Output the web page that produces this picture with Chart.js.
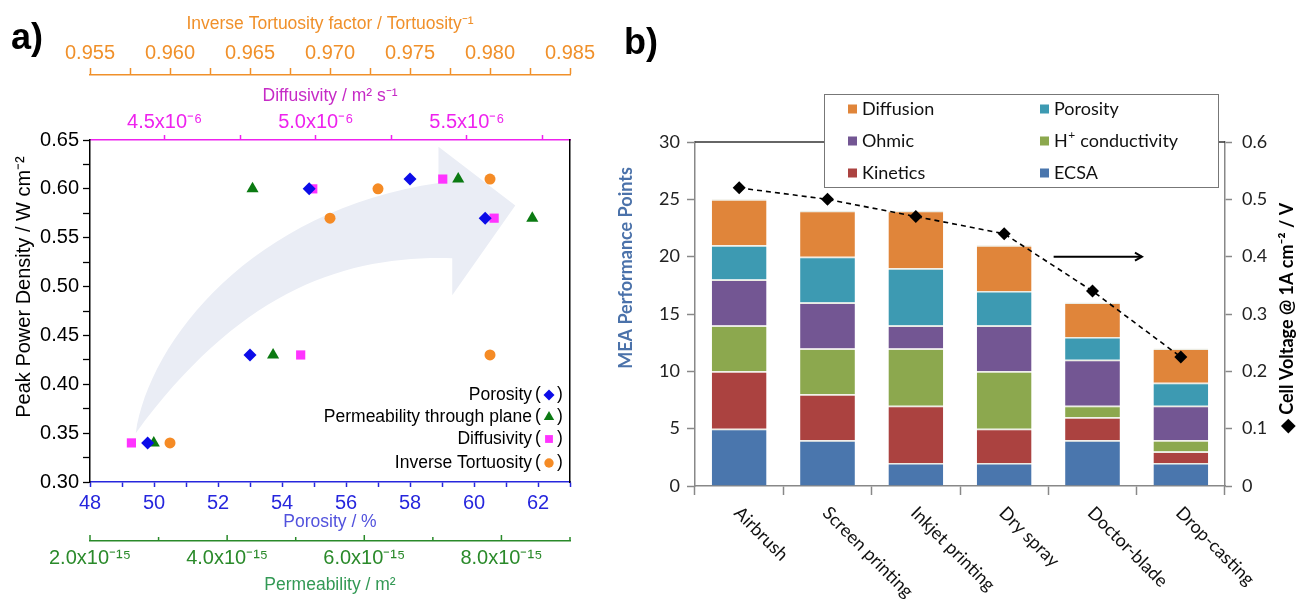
<!DOCTYPE html>
<html><head><meta charset="utf-8">
<script src="https://cdn.jsdelivr.net/npm/chart.js@4/dist/chart.umd.min.js"></script>
<style>
html,body{margin:0;padding:0;background:#fff;width:1308px;height:603px;overflow:hidden}
#wrapA{position:absolute;left:0;top:0;width:600px;height:603px}
#wrapB{position:absolute;left:600px;top:0;width:708px;height:603px}
.plabel{position:absolute;font:bold 36px "Liberation Sans",Arial,sans-serif;color:#000;line-height:1}
</style></head><body>
<div id="wrapA"><canvas id="cA" width="600" height="603"></canvas></div>
<div id="wrapB"><canvas id="cB" width="708" height="603"></canvas></div>
<div class="plabel" style="left:11px;top:19px">a)</div>
<div class="plabel" style="left:624px;top:24px">b)</div>
<script>
// ===== Panel a data =====
const peakPower       = [0.34, 0.43, 0.60, 0.61, 0.57];        // W cm^-2
const porosity        = [49.8, 53.0, 54.85, 58.0, 60.35];      // %
const permeabilityE15 = [2.93, 4.67, 4.37, 7.37, 8.45];        // x10^-15 m^2
const diffusivityE6   = [4.39, 4.95, 4.99, 5.42, 5.59];        // x10^-6 m^2 s^-1
const invTortuosity   = [0.960, 0.980, 0.973, 0.980, 0.970];
const ppdTicks        = [0.30, 0.35, 0.40, 0.45, 0.50, 0.55, 0.60, 0.65];
const porosityTicks   = [48, 50, 52, 54, 56, 58, 60, 62];
const permTicks       = [2, 4, 6, 8];
const diffTicks       = [4.5, 5.0, 5.5];
const tortTicks       = [0.955, 0.960, 0.965, 0.970, 0.975, 0.980, 0.985];
const seriesNames     = ['Porosity', 'Permeability through plane', 'Diffusivity', 'Inverse Tortuosity'];

// ===== Panel b data =====
const methods       = ['Airbrush', 'Screen printing', 'Inkjet printing', 'Dry spray', 'Doctor-blade', 'Drop-casting'];
const ecsa          = [5, 4, 2, 2, 4, 2];
const kinetics      = [5, 4, 5, 3, 2, 1];
const hConductivity = [4, 4, 5, 5, 1, 1];
const ohmic         = [4, 4, 2, 4, 4, 3];
const porosityPts   = [3, 4, 5, 3, 2, 2];
const diffusion     = [4, 4, 5, 4, 3, 3];
const cellVoltage   = [0.52, 0.50, 0.47, 0.44, 0.34, 0.225];
const pointsTicks   = [0, 5, 10, 15, 20, 25, 30];
const voltTicks     = [0, 0.1, 0.2, 0.3, 0.4, 0.5, 0.6];

// ===== helpers =====
const LF = '"Liberation Sans", Arial, sans-serif';
const RF = 'Lato, "Open Sans", sans-serif';
function ticksFor(min, max, step) {
  const out = []; const k0 = Math.ceil(min / step - 1e-6);
  for (let k = k0; k * step <= max + 1e-9; k++) out.push(Math.round(k * step * 1e6) / 1e6);
  return out;
}
const isMajor = (v, arr) => arr.some(m => Math.abs(m - v) < 1e-6);
const fixedTicks = vals => scale => { scale.ticks = vals.map(v => ({value: v})); };
const fixH = h => s => { s.height = h; };
const fixW = w => s => { s.width = w; };

const C_OR = '#f0902a', C_MG = '#ee22ee', C_MGT = '#c62ac6', C_BL = '#2626dd', C_BLT = '#5252dd', C_GR = '#2a8a2a', C_GRT = '#339955';
const ptColors = ['#0c0ce8', '#0b7a12', '#ff33ff', '#f58b25'];
const ptStyles = ['rectRot', 'triangle', 'rect', 'circle'];
const ptRadius = [6.5, 7, 6.5, 5.5];

function drawMarker(ctx, style, x, y, r, color) {
  ctx.fillStyle = color; ctx.beginPath();
  if (style === 'rectRot') { ctx.moveTo(x, y - r); ctx.lineTo(x + r, y); ctx.lineTo(x, y + r); ctx.lineTo(x - r, y); }
  else if (style === 'triangle') { ctx.moveTo(x, y - r); ctx.lineTo(x + r * 0.87, y + r * 0.5); ctx.lineTo(x - r * 0.87, y + r * 0.5); }
  else if (style === 'rect') { const s = r * 0.707; ctx.rect(x - s, y - s, 2 * s, 2 * s); }
  else { ctx.arc(x, y, r, 0, Math.PI * 2); }
  ctx.closePath(); ctx.fill();
}

// decorative curved arrow, in (porosity %, W cm^-2) units
const arrowShape = {tail:[49.43,0.350], u1:[49.86,0.445], u2:[53.07,0.578], uEnd:[58.89,0.606],
  headTop:[58.89,0.643], tip:[61.29,0.583], headBottom:[59.32,0.491], lEnd:[59.32,0.529],
  l1:[55.93,0.532], l2:[52.71,0.496]};

const leftDeco = {
  id: 'leftDeco',
  beforeDatasetsDraw(chart) {
    const {ctx} = chart; const xs = chart.scales.xPor, ys = chart.scales.y;
    const P = a => [xs.getPixelForValue(a[0]), ys.getPixelForValue(a[1])];
    const A = arrowShape;
    ctx.save(); ctx.beginPath();
    ctx.moveTo(...P(A.tail));
    ctx.bezierCurveTo(...P(A.u1), ...P(A.u2), ...P(A.uEnd));
    ctx.lineTo(...P(A.headTop)); ctx.lineTo(...P(A.tip)); ctx.lineTo(...P(A.headBottom)); ctx.lineTo(...P(A.lEnd));
    ctx.bezierCurveTo(...P(A.l1), ...P(A.l2), ...P(A.tail));
    ctx.closePath(); ctx.fillStyle = '#eaedf5'; ctx.fill(); ctx.restore();
  },
  afterDraw(chart) {
    const {ctx, chartArea: ca} = chart;
    ctx.save();
    // y title
    ctx.translate(24, (ca.top + ca.bottom) / 2 - 24); ctx.rotate(-Math.PI / 2);
    ctx.fillStyle = '#000'; ctx.font = '20px ' + LF; ctx.textAlign = 'center'; ctx.textBaseline = 'middle';
    ctx.fillText('Peak Power Density / W cm⁻²', 0, 0);
    ctx.restore();
    // legend
    const rows = [87, 65, 43, 19];
    ctx.save(); ctx.font = '17.5px ' + LF; ctx.textBaseline = 'middle'; ctx.fillStyle = '#000';
    seriesNames.forEach((n, i) => {
      const y = ca.bottom - rows[i];
      ctx.fillStyle = '#000'; ctx.textAlign = 'right'; ctx.fillText(n, ca.right - 38, y);
      ctx.textAlign = 'left'; ctx.fillText('(', ca.right - 35, y - 1); ctx.fillText(')', ca.right - 13, y - 1);
      drawMarker(ctx, ptStyles[i], ca.right - 21, y, ptRadius[i] * 0.85, ptColors[i]);
    });
    ctx.restore();
    // inward ticks on permeability axis
    const s = chart.scales.xPerm;
    ctx.save(); ctx.strokeStyle = C_GR; ctx.lineWidth = 1.5;
    s.ticks.forEach(t => {
      const x = s.getPixelForValue(t.value); const L = isMajor(t.value, permTicks) ? 6 : 4;
      ctx.beginPath(); ctx.moveTo(x, s.top); ctx.lineTo(x, s.top - L); ctx.stroke();
    });
    ctx.restore();
  }
};

function topBottomAxis(o) {
  return {
    type: 'linear', axis: 'x', position: o.pos, weight: o.weight, min: o.min, max: o.max, bounds: 'data',
    afterBuildTicks: fixedTicks(ticksFor(o.min, o.max, o.minor)),
    afterFit: fixH(o.h),
    ticks: {autoSkip: false, maxRotation: 0, minRotation: 0, color: o.color, font: {family: LF, size: 20}, padding: o.pad,
      callback: v => isMajor(v, o.majors) ? o.fmt(v) : ''},
    grid: {display: true, drawOnChartArea: false, drawTicks: o.drawTicks !== false, tickLength: o.tl || 6, tickColor: o.color, tickWidth: 1.5},
    border: {display: true, color: o.color, width: 1.5},
    title: {display: true, text: o.title, color: o.titleColor, font: {family: LF, size: 17.5}, padding: o.tpad}
  };
}

const scatterSets = [
  {label: seriesNames[0], xAxisID: 'xPor',  data: porosity.map((v, i) => ({x: v, y: peakPower[i]}))},
  {label: seriesNames[1], xAxisID: 'xPerm', data: permeabilityE15.map((v, i) => ({x: v, y: peakPower[i]}))},
  {label: seriesNames[2], xAxisID: 'xDiff', data: diffusivityE6.map((v, i) => ({x: v, y: peakPower[i]}))},
  {label: seriesNames[3], xAxisID: 'xTort', data: invTortuosity.map((v, i) => ({x: v, y: peakPower[i]}))}
].map((d, i) => Object.assign(d, {yAxisID: 'y', pointStyle: ptStyles[i], pointRadius: ptRadius[i],
  backgroundColor: ptColors[i], borderColor: ptColors[i], borderWidth: 0, showLine: false}));

new Chart(document.getElementById('cA'), {
  type: 'scatter',
  data: {datasets: scatterSets},
  options: {
    responsive: false, animation: false, events: [],
    layout: {padding: {left: 0, right: 30, top: 0, bottom: 0}},
    plugins: {legend: {display: false}, tooltip: {enabled: false}},
    scales: {
      xTort: topBottomAxis({pos: 'top', weight: 1, min: 0.955, max: 0.985, minor: 0.0025, majors: tortTicks, fmt: v => v.toFixed(3),
        h: 75, pad: 3, tl: 7, color: C_OR, titleColor: C_OR, title: 'Inverse Tortuosity factor / Tortuosity⁻¹', tpad: {top: 14, bottom: 0}}),
      xDiff: topBottomAxis({pos: 'top', weight: 0, min: 4.253, max: 5.841, minor: 0.25, majors: diffTicks, fmt: v => v.toFixed(1) + 'x10⁻⁶',
        h: 65, pad: 1, tl: 5, color: C_MG, titleColor: C_MGT, title: 'Diffusivity / m² s⁻¹', tpad: {top: 11, bottom: 0}}),
      xPor: topBottomAxis({pos: 'bottom', weight: 0, min: 48, max: 63, minor: 1, majors: porosityTicks, fmt: v => String(v),
        h: 59, pad: 4, tl: 5, color: C_BL, titleColor: C_BLT, title: 'Porosity / %', tpad: {top: 0, bottom: 8}}),
      xPerm: topBottomAxis({pos: 'bottom', weight: 1, min: 2, max: 9, minor: 1, majors: permTicks, fmt: v => v.toFixed(1) + 'x10⁻¹⁵',
        h: 62, pad: 5, drawTicks: false, color: C_GR, titleColor: C_GRT, title: 'Permeability / m²', tpad: {top: 0, bottom: 7}}),
      y: {type: 'linear', position: 'left', min: 0.30, max: 0.65, bounds: 'data',
        afterBuildTicks: fixedTicks(ticksFor(0.30, 0.65, 0.025)), afterFit: fixW(90),
        ticks: {autoSkip: false, color: '#000', font: {family: LF, size: 20}, padding: 4,
          callback: v => isMajor(v, ppdTicks) ? v.toFixed(2) : ''},
        grid: {drawOnChartArea: false, tickLength: 7, tickColor: '#000', tickWidth: 1.3},
        border: {display: true, color: '#000', width: 1.5}},
      yR: {type: 'linear', axis: 'y', position: 'right', min: 0.30, max: 0.65, afterFit: fixW(0),
        ticks: {display: false}, grid: {display: false, drawTicks: false}, border: {display: true, color: '#000', width: 1.5}}
    }
  },
  plugins: [leftDeco]
});

// ===== Panel b =====
const segNames  = ['ECSA', 'Kinetics', 'H+ conductivity', 'Ohmic', 'Porosity', 'Diffusion'];
const segValues = [ecsa, kinetics, hConductivity, ohmic, porosityPts, diffusion];
const segColors = ['#4a76ad', '#ab4240', '#8ca84e', '#735693', '#3d9ab2', '#e0853a'];

function drawLabelWithSup(ctx, label, x, y) {
  if (label.startsWith('H+')) {
    ctx.fillText('H', x, y); const w = ctx.measureText('H').width;
    const f = ctx.font; ctx.font = '12px ' + RF; ctx.fillText('+', x + w + 0.5, y - 6);
    const w2 = ctx.measureText('+').width; ctx.font = f;
    ctx.fillText(label.slice(2), x + w + w2 + 1, y);
  } else ctx.fillText(label, x, y);
}

const rightDeco = {
  id: 'rightDeco',
  afterDraw(chart) {
    const {ctx, chartArea: ca} = chart; const xs = chart.scales.x, ys = chart.scales.y;
    ctx.save();
    // top frame
    ctx.strokeStyle = '#333'; ctx.lineWidth = 1.5;
    ctx.beginPath(); ctx.moveTo(ca.left, ca.top); ctx.lineTo(ca.right, ca.top); ctx.stroke();
    // category labels (rotated clockwise)
    ctx.fillStyle = '#111'; ctx.font = '18px ' + RF; ctx.textAlign = 'left'; ctx.textBaseline = 'middle';
    methods.forEach((m, i) => {
      const x = xs.getPixelForValue(i);
      ctx.save(); ctx.translate(x - 2, ca.bottom + 24); ctx.rotate(Math.PI / 4); ctx.fillText(m, 0, 0); ctx.restore();
    });
    // axis titles
    ctx.save(); ctx.translate(26, (ca.top + ca.bottom) / 2 - 46); ctx.rotate(-Math.PI / 2);
    ctx.font = 'bold 18px ' + RF; ctx.fillStyle = '#4b72aa'; ctx.textAlign = 'center';
    ctx.fillText('MEA Performance Points', 0, 0); ctx.restore();
    ctx.save(); ctx.translate(687, (ca.top + ca.bottom) / 2 + 4); ctx.rotate(-Math.PI / 2);
    ctx.font = 'bold 18px ' + RF; ctx.fillStyle = '#000'; ctx.textAlign = 'center';
    ctx.fillText('◆ Cell Voltage @ 1A cm⁻² / V', 0, 0); ctx.restore();
    // right-pointing arrow
    const step = xs.getPixelForValue(1) - xs.getPixelForValue(0);
    const x0 = xs.getPixelForValue(3) + 0.56 * step, x1 = xs.getPixelForValue(4) + 0.56 * step, ya = ys.getPixelForValue(20);
    ctx.strokeStyle = '#000'; ctx.lineWidth = 2;
    ctx.beginPath(); ctx.moveTo(x0, ya); ctx.lineTo(x1, ya); ctx.stroke();
    ctx.beginPath(); ctx.moveTo(x1 - 7, ya - 4); ctx.lineTo(x1, ya); ctx.lineTo(x1 - 7, ya + 4); ctx.stroke();
    // legend box
    const bx = 224, by = 94, bw = 394, bh = 93;
    ctx.fillStyle = '#fff'; ctx.fillRect(bx, by, bw, bh);
    ctx.strokeStyle = '#777'; ctx.lineWidth = 1; ctx.strokeRect(bx + 0.5, by + 0.5, bw, bh);
    const order = [5, 4, 3, 2, 1, 0];
    const colX = [bx + 24, bx + 216], rowY = [by + 15, by + 47, by + 79];
    ctx.font = '18px ' + RF; ctx.textBaseline = 'middle'; ctx.textAlign = 'left';
    order.forEach((di, k) => {
      const cx = colX[k % 2], cy = rowY[Math.floor(k / 2)];
      ctx.fillStyle = segColors[di]; ctx.fillRect(cx, cy - 4.5, 9, 9);
      ctx.fillStyle = '#111'; drawLabelWithSup(ctx, segNames[di], cx + 14, cy);
    });
    ctx.restore();
  }
};

const barSets = segNames.map((n, i) => ({
  type: 'bar', label: n, data: segValues[i], backgroundColor: segColors[i], yAxisID: 'y',
  borderColor: 'rgba(235,235,225,0.95)', borderWidth: {top: 1.5, left: 0, right: 0, bottom: 0},
  categoryPercentage: 1, barPercentage: 0.62, order: 0
}));
const lineSet = {type: 'line', label: 'Cell Voltage', data: cellVoltage, yAxisID: 'y1', borderColor: '#000', borderWidth: 1.6,
  borderDash: [5, 4], pointStyle: 'rectRot', pointRadius: 6.5, pointBackgroundColor: '#000', pointBorderColor: '#000',
  pointBorderWidth: 0, fill: false, tension: 0, order: -1};

new Chart(document.getElementById('cB'), {
  type: 'bar',
  data: {labels: methods, datasets: [lineSet, ...barSets]},
  options: {
    responsive: false, animation: false, events: [],
    layout: {padding: {left: 0, right: 0, top: 142, bottom: 0}},
    plugins: {legend: {display: false}, tooltip: {enabled: false}},
    scales: {
      x: {type: 'category', stacked: true, offset: true, afterFit: fixH(117),
        ticks: {display: false},
        grid: {offset: true, drawOnChartArea: false, tickLength: 9, tickColor: '#888', tickWidth: 1.5},
        border: {display: true, color: '#888', width: 1.5}},
      y: {type: 'linear', stacked: true, position: 'left', min: 0, max: 30, bounds: 'data',
        afterBuildTicks: fixedTicks(pointsTicks), afterFit: fixW(95),
        ticks: {color: '#222', font: {family: RF, size: 18}, padding: 7},
        grid: {drawOnChartArea: false, tickLength: 8, tickColor: '#888', tickWidth: 1.5},
        border: {display: true, color: '#888', width: 1.5}},
      y1: {type: 'linear', position: 'right', min: 0, max: 0.6, bounds: 'data',
        afterBuildTicks: fixedTicks(voltTicks), afterFit: fixW(83),
        ticks: {color: '#222', font: {family: RF, size: 18}, padding: 10, callback: v => v === 0 ? '0' : v.toFixed(1)},
        grid: {drawOnChartArea: false, tickLength: 7, tickColor: '#888', tickWidth: 1.5},
        border: {display: true, color: '#888', width: 1.5}}
    }
  },
  plugins: [rightDeco]
});
</script>
</body></html>
